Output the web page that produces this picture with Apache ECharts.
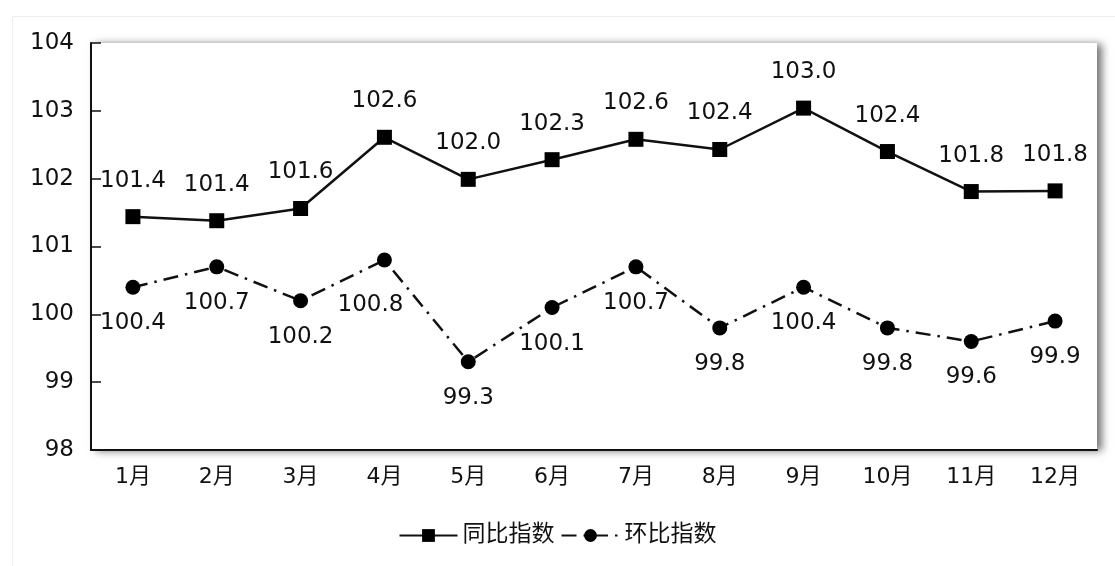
<!DOCTYPE html>
<html>
<head>
<meta charset="utf-8">
<script src="https://cdn.jsdelivr.net/npm/echarts@6/dist/echarts.min.js"></script>
<style>
html,body{margin:0;padding:0;background:#fff;}
#main{width:1115px;height:566px;}
</style>
</head>
<body>
<div id="main"></div>
<script>
const categories = ['1月','2月','3月','4月','5月','6月','7月','8月','9月','10月','11月','12月'];
const yoyValues = [101.44, 101.38, 101.56, 102.61, 101.99, 102.28, 102.58, 102.43, 103.04, 102.4, 101.81, 101.82];
const momValues = [100.4, 100.7, 100.2, 100.8, 99.3, 100.1, 100.7, 99.8, 100.4, 99.8, 99.6, 99.9];
const yTicks = [98, 99, 100, 101, 102, 103, 104];
const seriesNames = ['同比指数', '环比指数'];

const FONT = '"DejaVu Sans", "Noto Sans CJK SC", sans-serif';
const chart = echarts.init(document.getElementById('main'));

const momData = momValues.map((v, i) => {
  if (i === 3) {
    return { value: v, label: { offset: [-14, 9] } };
  }
  return v;
});

chart.setOption({
  animation: false,
  backgroundColor: '#fff',
  textStyle: { fontFamily: FONT },
  graphic: [{
    type: 'rect',
    left: 10, top: 14,
    shape: { width: 1120, height: 570 },
    style: { fill: 'none', stroke: '#eeeeee', lineWidth: 1 },
    silent: true, z: -10
  }],
  grid: {
    left: 91, right: 18, top: 43, bottom: 116,
    show: true, backgroundColor: '#fff', borderWidth: 0,
    shadowColor: 'rgba(0,0,0,0.55)', shadowBlur: 8, shadowOffsetX: 5, shadowOffsetY: 1
  },
  legend: {
    bottom: 14, left: 'center',
    itemWidth: 58, itemHeight: 16, itemGap: 6,
    textStyle: { fontSize: 23, color: '#111', fontFamily: FONT },
    data: seriesNames
  },
  xAxis: {
    type: 'category', data: categories, boundaryGap: true,
    axisLine: { lineStyle: { color: '#111', width: 2 } },
    axisTick: { inside: true, length: 10, lineStyle: { color: '#111', width: 1.5 } },
    axisLabel: { fontSize: 22, color: '#111', margin: 16, fontFamily: FONT }
  },
  yAxis: {
    type: 'value', min: yTicks[0], max: yTicks[yTicks.length - 1], interval: 1,
    axisLine: { show: true, lineStyle: { color: '#111', width: 2 } },
    axisTick: { show: true, inside: true, length: 10, lineStyle: { color: '#111', width: 1.5 } },
    splitLine: { show: false },
    axisLabel: { fontSize: 23, color: '#111', margin: 17, fontFamily: FONT }
  },
  series: [
    {
      name: seriesNames[0], type: 'line', data: yoyValues,
      symbol: 'rect', symbolSize: 15,
      itemStyle: { color: '#000' },
      lineStyle: { color: '#111', width: 2.5 },
      label: {
        show: true, position: 'top', distance: 17,
        fontSize: 23, color: '#111', fontFamily: FONT,
        formatter: p => Number(p.value).toFixed(1)
      }
    },
    {
      name: seriesNames[1], type: 'line', data: momData,
      symbol: 'circle', symbolSize: 15,
      itemStyle: { color: '#000' },
      lineStyle: { color: '#111', width: 2.5, type: [15, 7, 2.5, 7] },
      label: {
        show: true, position: 'bottom', distance: 17,
        fontSize: 23, color: '#111', fontFamily: FONT,
        formatter: p => Number(p.value).toFixed(1)
      }
    }
  ]
});
</script>
</body>
</html>
